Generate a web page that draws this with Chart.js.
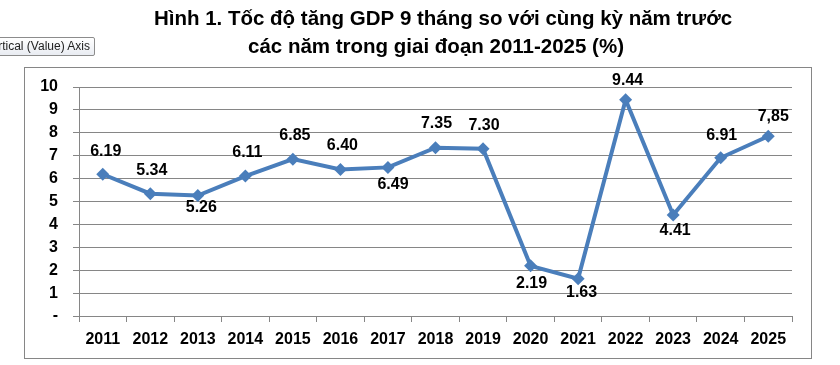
<!DOCTYPE html>
<html>
<head>
<meta charset="utf-8">
<script src="https://cdn.jsdelivr.net/npm/chart.js@4/dist/chart.umd.min.js"></script>
<style>
  html, body { margin: 0; padding: 0; background: #fff; overflow: hidden; }
  #wrap { position: relative; width: 840px; height: 365px; }
  #tip {
    position: absolute; right: 745px; top: 37px; height: 17px;
    border: 1px solid #8c8c8c; border-radius: 2px;
    background: linear-gradient(#ffffff, #e9ecf2);
    font: 12px "Liberation Sans", Arial, sans-serif; color: #222;
    line-height: 17px; padding: 0 4px; white-space: nowrap; z-index: 2;
  }
</style>
</head>
<body>
<div id="wrap">
  <canvas id="c" width="840" height="365"></canvas>
  <div id="tip">Vertical (Value) Axis</div>
</div>
<script>
const categories = ['2011','2012','2013','2014','2015','2016','2017','2018','2019','2020','2021','2022','2023','2024','2025'];
const gdpGrowth = [6.19, 5.34, 5.26, 6.11, 6.85, 6.40, 6.49, 7.35, 7.30, 2.19, 1.63, 9.44, 4.41, 6.91, 7.85];
const valueLabels = ['6.19','5.34','5.26','6.11','6.85','6.40','6.49','7.35','7.30','2.19','1.63','9.44','4.41','6.91','7,85'];
const yTickValues = [0,1,2,3,4,5,6,7,8,9,10];
const titleLines = ['Hình 1. Tốc độ tăng GDP 9 tháng so với cùng kỳ năm trước', 'các năm trong giai đoạn 2011-2025 (%)'];

// label placement relative to each marker [dx, dy]
const labelOffsets = [[3,-23],[1.5,-23],[3.5,12],[2,-23],[2,-24],[2,-24],[5,17],[1,-24],[1,-23.5],[1,18],[3.5,14],[2,-19],[2,16],[1,-22],[5,-20]];

const FONT = '"Liberation Sans", Arial, sans-serif';
const GRID = '#868686';
const BLUE = '#4A7EBB';

const framePlugin = {
  id: 'frame',
  beforeDraw(chart) {
    const ctx = chart.ctx;
    ctx.save();
    ctx.fillStyle = '#fff';
    ctx.fillRect(0, 0, chart.width, chart.height);
    ctx.strokeStyle = GRID;
    ctx.lineWidth = 1;
    ctx.strokeRect(24.5, 67.5, 787, 291);
    // title
    ctx.fillStyle = '#000';
    ctx.font = 'bold 20.5px ' + FONT;
    ctx.textAlign = 'center';
    ctx.textBaseline = 'middle';
    ctx.fillText(titleLines[0], 443, 19);
    ctx.fillText(titleLines[1], 436, 47);
    ctx.restore();
  }
};

const labelPlugin = {
  id: 'valueLabels',
  afterDatasetsDraw(chart) {
    const ctx = chart.ctx;
    const meta = chart.getDatasetMeta(0);
    ctx.save();
    ctx.fillStyle = '#000';
    ctx.font = 'bold 16px ' + FONT;
    ctx.textAlign = 'center';
    ctx.textBaseline = 'middle';
    meta.data.forEach((pt, i) => {
      const off = labelOffsets[i];
      ctx.fillText(valueLabels[i], pt.x + off[0], pt.y + off[1]);
    });
    ctx.restore();
  }
};

new Chart(document.getElementById('c'), {
  type: 'line',
  data: {
    labels: categories,
    datasets: [{
      data: gdpGrowth,
      borderColor: BLUE,
      backgroundColor: BLUE,
      borderWidth: 4,
      pointStyle: 'rectRot',
      pointRadius: 6.5,
      pointBorderWidth: 0,
      pointBackgroundColor: BLUE,
      tension: 0,
      clip: false
    }]
  },
  options: {
    responsive: false,
    animation: false,
    devicePixelRatio: 1,
    layout: { padding: { left: 0, right: 48, top: 87, bottom: 0 } },
    plugins: { legend: { display: false }, tooltip: { enabled: false }, title: { display: false } },
    scales: {
      x: {
        type: 'category',
        offset: true,
        grid: { display: true, drawOnChartArea: false, drawTicks: true, tickLength: 6, color: GRID, offset: true },
        border: { display: true, color: GRID },
        ticks: { color: '#000', font: { family: FONT, size: 16, weight: 'bold' }, padding: 8, maxRotation: 0, autoSkip: false },
        afterFit(scale) { scale.height = 49; }
      },
      y: {
        min: 0, max: 10,
        afterBuildTicks(scale) { scale.ticks = yTickValues.map(v => ({ value: v })); },
        grid: { color: GRID, lineWidth: 1, drawTicks: true, tickLength: 6 },
        border: { display: true, color: GRID },
        ticks: {
          color: '#000', font: { family: FONT, size: 16, weight: 'bold' }, padding: 15,
          callback: v => (v === 0 ? '-' : String(v))
        },
        afterFit(scale) { scale.width = 79; }
      }
    }
  },
  plugins: [framePlugin, labelPlugin]
});
</script>
</body>
</html>
